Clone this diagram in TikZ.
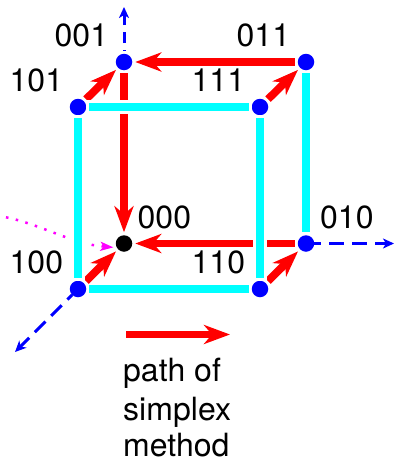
\documentclass[tikz,border=0pt]{standalone}
\usepackage{fontspec}
\setmainfont{TeX Gyre Heros}
\usetikzlibrary{arrows.meta}
\tikzset{
  x=1pt,y=-1pt,
  vert/.style={circle,fill=blue,inner sep=0pt,minimum size=16.5pt,outer sep=3pt},
  origin/.style={circle,fill=black,inner sep=0pt,minimum size=16.5pt,outer sep=3pt},
  lab/.style={inner sep=0pt,anchor=base west,font=\fontsize{32}{34}\selectfont},
  path/.style={draw=red,line width=7.8pt,-{Stealth[length=26pt,width=19pt,inset=8pt]},shorten >=0pt},
  edge/.style={draw=cyan,line width=8pt},
  halo/.style={draw=white,line width=14pt},
  ray/.style={draw=blue,line width=3pt,-{Stealth[length=11pt,width=10pt,inset=3pt]}},
  longray/.style={ray,shorten <=-3pt,dash pattern=on 15pt off 8pt,dash phase=8.25pt},
  shortray/.style={ray,dash pattern=on 11pt off 7pt,dash phase=10.25pt},
  trail/.style={draw=magenta,line width=2.5pt,dash pattern=on 2.5pt off 7.5pt,-{Stealth[length=13pt,width=9pt,inset=3pt]}},
}
\definecolor{cyan}{RGB}{0,255,255}
\definecolor{magenta}{RGB}{255,0,255}
\begin{document}
\begin{tikzpicture}
\useasboundingbox (0,0) rectangle (394,458);
\node[vert] (n001) at (124,62) {};
\node[vert] (n011) at (306,62) {};
\node[vert] (n101) at (78,107) {};
\node[vert] (n111) at (260,107) {};
\node[origin] (n000) at (124,243.5) {};
\node[vert] (n010) at (306,243.5) {};
\node[vert] (n100) at (78,289) {};
\node[vert] (n110) at (260,289) {};
\coordinate (up) at (124,7);
\coordinate (right) at (394,243.5);
\coordinate (down) at (15,352);
\coordinate (t0) at (6,217.3);
\coordinate (k1) at (126,334.5);
\coordinate (k2) at (230,334.5);
% path of the simplex method
\draw[path] (n011) -- (n001);
\draw[path] (n001) -- (n000);
\draw[path] (n010) -- (n000);
\draw[path] (n101) -- (n001);
\draw[path] (n111) -- (n011);
\draw[path] (n100) -- (n000);
\draw[path] (n110) -- (n010);
% dotted trail
\draw[trail] (t0) .. controls (40,224) and (72,244) .. (n000.200);
% rays
\draw[shortray] (n001) -- (up);
\draw[longray] (n010) -- (right);
\draw[longray] (n100) -- (down);
% cube edges in front, with white gaps
\path[halo] (78,115) -- (78,281);
\path[halo] (86,107) -- (252,107);
\path[halo] (260,115) -- (260,281);
\draw[edge] (n101) -- (n111);
\draw[edge] (n101) -- (n100);
\draw[edge] (n111) -- (n110);
\draw[edge] (n100) -- (n110);
\draw[edge] (n011) -- (n010);
% labels
\node[lab] (l001) at (54.5,46) {001};
\node[lab] (l011) at (236.5,46) {011};
\node[lab] (l101) at (9.5,91) {101};
\node[lab] (l111) at (191.5,91) {111};
\node[lab] (l000) at (137.5,228) {000};
\node[lab] (l010) at (320,228) {010};
\node[lab] (l100) at (9.5,273) {100};
\node[lab] (l110) at (191.5,273) {110};
% legend
\draw[path] (k1) -- (k2);
\node[lab] (p1) at (123,381.5) {path of};
\node[lab] (p2) at (123,420) {simplex};
\node[lab] (p3) at (123,456.5) {method};
\end{tikzpicture}
\end{document}
